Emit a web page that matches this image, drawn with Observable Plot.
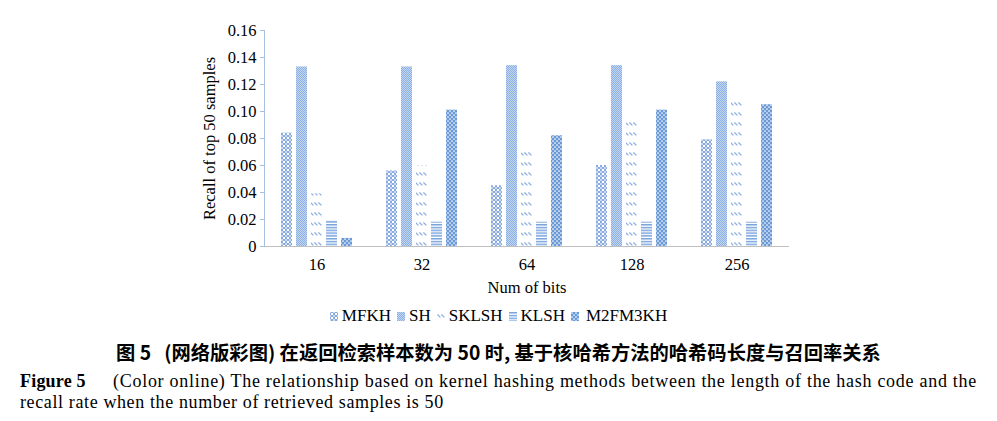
<!DOCTYPE html>
<html>
<head>
<meta charset="utf-8">
<script src="https://cdn.jsdelivr.net/npm/d3@7"></script>
<script src="https://cdn.jsdelivr.net/npm/@observablehq/plot@0.6"></script>
<style>
  body { margin: 0; width: 997px; height: 421px; overflow: hidden; background: white; position: relative; }
  #legend { position: absolute; top: 306px; left: 0; width: 997px; display: flex; justify-content: center; align-items: center;
            font-family: "Liberation Serif", serif; font-size: 17px; color: #000; }
  #legend .item { display: flex; align-items: center; margin: 0 3px; }
  #legend svg { margin-right: 4px; }
  #legend .item:last-child svg { margin-right: 7px; }
  .cap { position: absolute; left: 0; white-space: nowrap; color: #000; }
  #capzh { top: 340px; width: 997px; text-align: center; font-family: "Noto Sans CJK SC", sans-serif; font-weight: 700; font-size: 19.3px; line-height: 24px; }
  #capen1, #capen2 { left: 20px; font-family: "Liberation Serif", serif; font-size: 18px; letter-spacing: 0.62px; line-height: 20px; }
  #capen1 { top: 371px; letter-spacing: 0.72px; }
  #capen2 { top: 392px; }
  #capen1 b { display: inline-block; width: 93px; letter-spacing: 0.2px; }
</style>
</head>
<body>
<svg width="0" height="0" style="position:absolute">
  <defs>
    <pattern id="pat-MFKH" patternUnits="userSpaceOnUse" width="4" height="4">
      <rect width="4" height="4" fill="white"/>
      <circle cx="2" cy="2" r="1.75" fill="none" stroke="#7fa5dd" stroke-width="1"/>
    </pattern>
    <pattern id="pat-SH" patternUnits="userSpaceOnUse" width="2" height="2">
      <rect width="2" height="2" fill="#c4d7f2"/>
      <rect width="1" height="1" fill="#8db0e2"/>
      <rect x="1" y="1" width="1" height="1" fill="#8db0e2"/>
    </pattern>
    <pattern id="pat-SKLSH" patternUnits="userSpaceOnUse" width="4" height="10">
      <rect width="4" height="10" fill="white"/>
      <line x1="0.4" y1="2.4" x2="3.4" y2="5.4" stroke="#8eb0e2" stroke-width="1.3"/>
    </pattern>
    <pattern id="pat-KLSH" patternUnits="userSpaceOnUse" width="4" height="2.8">
      <rect width="4" height="2.8" fill="white"/>
      <rect width="4" height="1.5" fill="#7aa3de"/>
    </pattern>
    <pattern id="pat-M2FM3KH" patternUnits="userSpaceOnUse" width="4" height="4">
      <rect width="4" height="4" fill="#6a99d7"/>
      <circle cx="1" cy="1" r="0.85" fill="white"/>
      <circle cx="3" cy="3" r="0.85" fill="white"/>
    </pattern>
  </defs>
</svg>
<div id="chart"></div>
<div id="legend"></div>
<div class="cap" id="capzh">图 5&nbsp;&nbsp; (网络版彩图) 在返回检索样本数为 50 时, 基于核哈希方法的哈希码长度与召回率关系</div>
<div class="cap" id="capen1"><b>Figure 5</b>(Color online) The relationship based on kernel hashing methods between the length of the hash code and the</div>
<div class="cap" id="capen2">recall rate when the number of retrieved samples is 50</div>
<script>
// ---- data ----
const bits = ["16", "32", "64", "128", "256"];
const methods = ["MFKH", "SH", "SKLSH", "KLSH", "M2FM3KH"];
const MFKH    = [0.084, 0.056, 0.045, 0.060, 0.079];
const SH      = [0.133, 0.133, 0.134, 0.134, 0.122];
const SKLSH   = [0.039, 0.060, 0.074, 0.093, 0.109];
const KLSH    = [0.019, 0.018, 0.018, 0.018, 0.018];
const M2FM3KH = [0.006, 0.101, 0.082, 0.101, 0.105];
const yTicks = [0, 0.02, 0.04, 0.06, 0.08, 0.10, 0.12, 0.14, 0.16];

const series = {MFKH, SH, SKLSH, KLSH, M2FM3KH};
const data = [];
bits.forEach((b, i) => methods.forEach(m => data.push({bits: b, method: m, value: series[m][i]})));

const chart = Plot.plot({
  width: 997,
  height: 300,
  marginLeft: 262,
  marginRight: 207,
  marginTop: 30,
  marginBottom: 54,
  style: {fontFamily: "Liberation Serif, serif", fontSize: "16px", background: "white", color: "black"},
  fx: {domain: bits, padding: 0},
  x: {domain: methods, paddingInner: 0.25, paddingOuter: 0.925, axis: null},
  y: {domain: [0, 0.16]},
  color: {domain: methods, range: methods.map(m => `url(#pat-${m})`)},
  marks: [
    Plot.barY(data, {fx: "bits", x: "method", y: "value", fill: "method"}),
    Plot.ruleY([0], {stroke: "#bfbfbf", strokeWidth: 1}),
    Plot.frame({anchor: "left", facetAnchor: "left", stroke: "#a9bfe0"}),
    Plot.axisY({
      ticks: yTicks, tickSize: 4, tickPadding: 4,
      tickFormat: d => d === 0 ? "0" : d.toFixed(2),
      stroke: "#a9bfe0", fill: "black", fontSize: 16.5,
      label: "Recall of top 50 samples", labelAnchor: "center", labelOffset: 61, labelArrow: false
    }),
    Plot.axisFx({
      anchor: "bottom", tickSize: 0, tickPadding: 12, fill: "black", fontSize: 16.5,
      label: "Num of bits", labelAnchor: "center", labelOffset: 46, labelArrow: false
    })
  ]
});
document.getElementById("chart").appendChild(chart);

// legend
const legend = document.getElementById("legend");
methods.forEach(m => {
  const item = document.createElement("div");
  item.className = "item";
  item.innerHTML = `<svg width="8" height="9"><rect width="8" height="9" fill="url(#pat-${m})"/></svg><span>${m}</span>`;
  legend.appendChild(item);
});
</script>
</body>
</html>
